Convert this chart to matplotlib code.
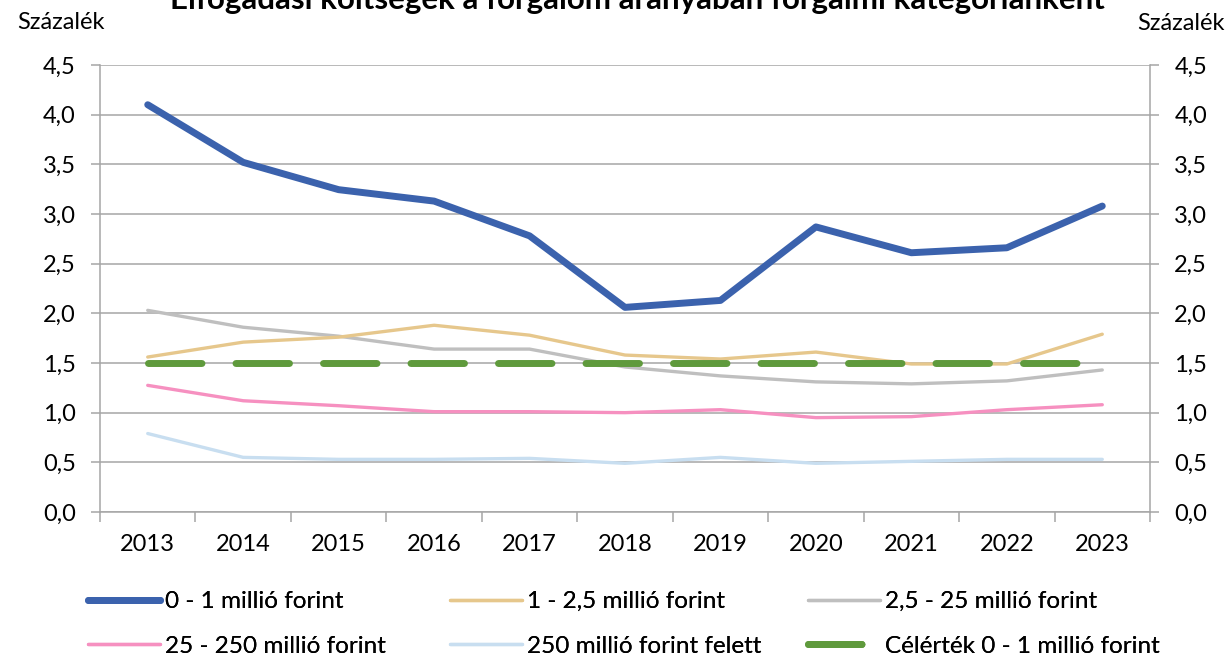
import matplotlib
matplotlib.use("Agg")
import matplotlib.pyplot as plt
from matplotlib.ticker import FuncFormatter

plt.rcParams['font.family'] = ['Lato', 'DejaVu Sans']

# adatok
years = ["2013", "2014", "2015", "2016", "2017", "2018", "2019", "2020", "2021", "2022", "2023"]
s_0_1 = [4.10, 3.52, 3.245, 3.13, 2.78, 2.06, 2.13, 2.87, 2.61, 2.66, 3.08]
s_1_25 = [1.56, 1.71, 1.76, 1.88, 1.78, 1.58, 1.54, 1.61, 1.49, 1.49, 1.79]
s_25_25 = [2.03, 1.86, 1.77, 1.64, 1.64, 1.46, 1.37, 1.31, 1.29, 1.32, 1.43]
s_25_250 = [1.275, 1.12, 1.07, 1.01, 1.01, 1.00, 1.03, 0.95, 0.96, 1.03, 1.08]
s_250 = [0.79, 0.55, 0.53, 0.53, 0.54, 0.49, 0.55, 0.49, 0.51, 0.53, 0.53]
target = [1.5] * 11

labels = ["0 - 1 millió forint", "1 - 2,5 millió forint", "2,5 - 25 millió forint",
          "25 - 250 millió forint", "250 millió forint felett", "Célérték 0 - 1 millió forint"]
title = "Elfogadási költségek a forgalom arányában forgalmi kategóriánként"

fig = plt.figure(figsize=(12.29, 6.55), dpi=100)
ax = fig.add_axes([100/1229, 1-512/655, 1050/1229, 447/655])

x = range(len(years))
grid_c = "#a6a6a6"

l1, = ax.plot(x, s_0_1, color="#3b62ad", lw=5.0, solid_capstyle="round", solid_joinstyle="round", zorder=6)
l2, = ax.plot(x, s_1_25, color="#e6c78c", lw=2.4, solid_capstyle="round", zorder=4)
l3, = ax.plot(x, s_25_25, color="#bfbfbf", lw=2.4, solid_capstyle="round", zorder=3)
l4, = ax.plot(x, s_25_250, color="#f690c0", lw=2.4, solid_capstyle="round", zorder=4)
l5, = ax.plot(x, s_250, color="#c8def0", lw=2.4, solid_capstyle="round", zorder=4)
l6, = ax.plot(x, target, color="#5f9a3c", lw=5.0, dash_capstyle="round", zorder=5)
l6.set_dashes([7.7, 4.9])

ax.set_xlim(-0.5, len(years) - 0.5)
ax.set_ylim(0, 4.5)
ax.set_yticks([i * 0.5 for i in range(10)])
ax.yaxis.set_major_formatter(FuncFormatter(lambda v, p: f"{v:.1f}".replace(".", ",")))
ax.set_xticks(list(x))
ax.set_xticklabels(years)
ax.set_xticks([i - 0.5 for i in range(len(years) + 1)], minor=True)

ax.grid(axis="y", color=grid_c, lw=1.1, zorder=0)
ax.set_axisbelow(True)
ax.spines["top"].set_visible(False)
for s in ["left", "right", "bottom"]:
    ax.spines[s].set_color(grid_c)
    ax.spines[s].set_linewidth(1.1)

ax.tick_params(axis="y", which="both", left=True, right=True, labelleft=True, labelright=True,
               length=6.5, width=1.1, color=grid_c, pad=11, labelsize=17)
ax.tick_params(axis="x", which="major", length=0, pad=16, labelsize=17)
ax.tick_params(axis="x", which="minor", length=7, width=1.1, color=grid_c)

fig.text(17/1229, 1-29/655, "Százalék", fontsize=17, ha="left", va="baseline")
fig.text(1225/1229, 1-30/655, "Százalék", fontsize=17, ha="right", va="baseline")
fig.text(637/1229, 1-9/655, title, fontsize=22.5, fontweight="bold", ha="center", va="baseline")

# jelmagyarázat oszloponként
handles = [l1, l2, l3, l4, l5, l6]
col_x = [88, 450, 808]
for c in range(3):
    leg = fig.legend([handles[c], handles[c + 3]], [labels[c], labels[c + 3]],
                     loc="upper left", bbox_to_anchor=(col_x[c]/1229, 1-591/655),
                     frameon=False, fontsize=17.5, handlelength=2.95, handletextpad=0.2,
                     labelspacing=0.97, borderaxespad=0, borderpad=0)
    fig.add_artist(leg)

fig.savefig("out.png", dpi=100)
